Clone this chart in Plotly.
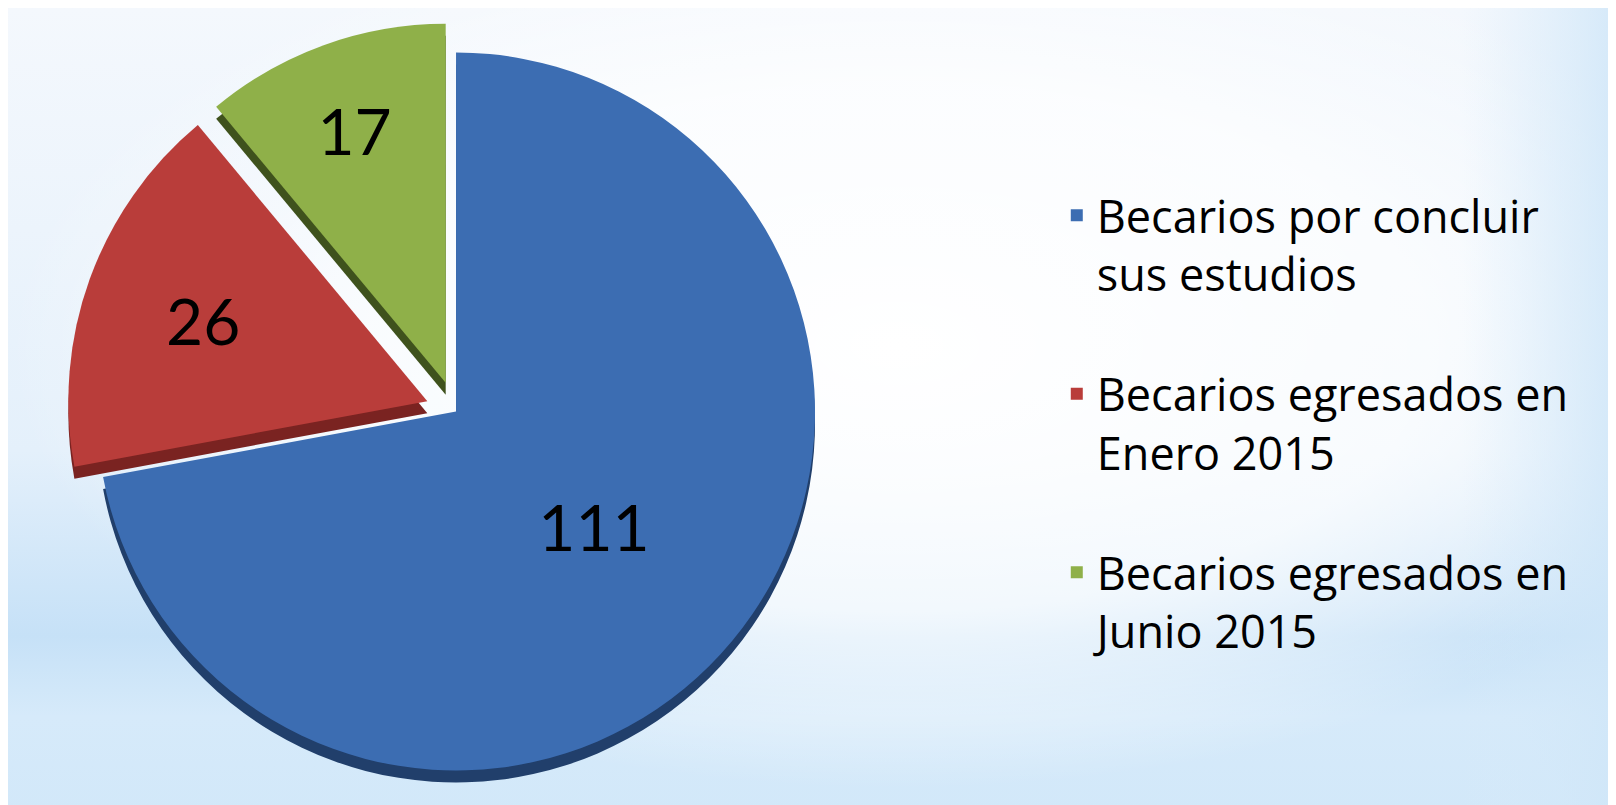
import base64
import plotly.graph_objects as go

# ---- data ----
categories = [
    "Becarios por concluir<br>sus estudios",
    "Becarios egresados en<br>Enero 2015",
    "Becarios egresados en<br>Junio 2015",
]
values = [111, 26, 17]
pulls = [0, 0.085, 0.085]
colors = ["#3c6db2", "#b93d3a", "#8fb049"]
side_colors = ["#213f6b", "#7a2321", "#3f521d"]

# ---- background gradient (SVG data URI) ----
svg = """<svg xmlns='http://www.w3.org/2000/svg' width='1616' height='805' viewBox='0 0 1616 805' preserveAspectRatio='none'>
<defs>
<linearGradient id='v' x1='0' y1='0' x2='0' y2='1'>
<stop offset='0' stop-color='#f4f8fd'/>
<stop offset='0.55' stop-color='#e4f0fb'/>
<stop offset='0.78' stop-color='#c6e1f7'/>
<stop offset='0.88' stop-color='#d6eafa'/>
<stop offset='1' stop-color='#d2e8f9'/>
</linearGradient>
<radialGradient id='g' cx='0.55' cy='0.42' r='0.55'>
<stop offset='0' stop-color='#ffffff' stop-opacity='1'/>
<stop offset='0.6' stop-color='#ffffff' stop-opacity='0.75'/>
<stop offset='1' stop-color='#ffffff' stop-opacity='0'/>
</radialGradient>
<linearGradient id='r' x1='0' y1='0' x2='1' y2='0'>
<stop offset='0.9' stop-color='#d8ebfa' stop-opacity='0'/>
<stop offset='1' stop-color='#cfe6f8' stop-opacity='0.9'/>
</linearGradient>
</defs>
<rect width='1616' height='805' fill='url(#v)'/>
<rect width='1616' height='805' fill='url(#g)'/>
<rect width='1616' height='805' fill='url(#r)'/>
</svg>"""
bg_uri = "data:image/svg+xml;base64," + base64.b64encode(svg.encode()).decode()

pie_x = [0, 0.5545]
H = 805.0
top_gap = 14
side_depth = 12

fig = go.Figure()

# darker copy slightly lower: gives the slices their 3D side faces
fig.add_trace(
    go.Pie(
        labels=[c + "<br> " for c in categories],
        values=values,
        pull=pulls,
        sort=False,
        direction="clockwise",
        rotation=0,
        marker=dict(colors=side_colors, line=dict(width=0)),
        textinfo="none",
        hoverinfo="skip",
        showlegend=False,
        domain=dict(x=pie_x, y=[0, 1 - (top_gap + side_depth) / H]),
    )
)

fig.add_trace(
    go.Pie(
        labels=[c + "<br> " for c in categories],
        values=values,
        pull=pulls,
        sort=False,
        direction="clockwise",
        rotation=0,
        marker=dict(colors=colors, line=dict(width=0)),
        textinfo="value",
        textposition="inside",
        insidetextorientation="horizontal",
        textfont=dict(family="Lato", size=64, color="black"),
        domain=dict(x=pie_x, y=[side_depth / H, 1 - top_gap / H]),
        hoverinfo="label+value",
    )
)

fig.update_layout(
    width=1616,
    height=805,
    margin=dict(l=0, r=0, t=0, b=0),
    paper_bgcolor="#eef5fc",
    plot_bgcolor="rgba(0,0,0,0)",
    font=dict(family="Open Sans", color="black"),
    showlegend=True,
    legend=dict(
        x=0.649,
        y=0.787,
        xanchor="left",
        yanchor="top",
        valign="top",
        font=dict(family="Open Sans", size=45, color="black"),
        bgcolor="rgba(0,0,0,0)",
        borderwidth=0,
    ),
    images=[
        dict(
            source=bg_uri,
            xref="paper",
            yref="paper",
            x=0,
            y=1,
            sizex=1,
            sizey=1,
            xanchor="left",
            yanchor="top",
            sizing="stretch",
            layer="below",
        )
    ],
)

fig.write_html("out.html")
